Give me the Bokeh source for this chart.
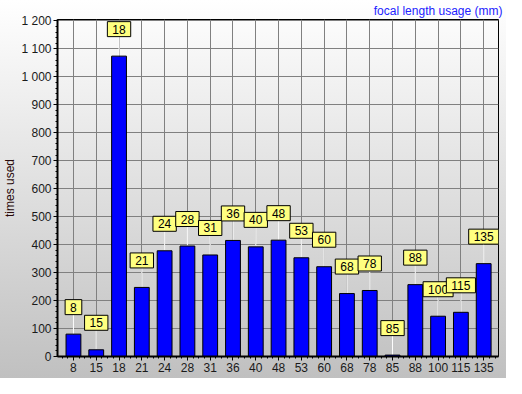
import math
from bokeh.plotting import figure
from bokeh.models import ColumnDataSource, Range1d, FixedTicker, SingleIntervalTicker
from bokeh.core.properties import value
from bokeh.embed import file_html
from bokeh.resources import INLINE

# ---- data ----
focal_lengths = ["8", "15", "18", "21", "24", "28", "31", "36", "40", "48",
                 "53", "60", "68", "78", "85", "88", "100", "115", "135"]
times_used = [80, 24, 1074, 247, 378, 395, 363, 415, 392, 416,
              353, 321, 225, 236, 5, 257, 144, 158, 332]
y_tick_values = [0, 100, 200, 300, 400, 500, 600, 700, 800, 900, 1000, 1100, 1200]
y_tick_labels = ["0", "100", "200", "300", "400", "500", "600", "700", "800", "900",
                 "1 000", "1 100", "1 200"]
title_text = "focal length usage (mm)"
y_label = "times used"

xs = list(range(len(focal_lengths)))
src = ColumnDataSource(dict(x=xs, y=times_used, label=focal_lengths))

FONT = "Liberation Sans"

p = figure(width=506, height=378, output_backend="svg", toolbar_location=None,
           x_range=Range1d(-0.7, len(xs) - 0.35), y_range=Range1d(0, 1205),
           min_border_left=40, min_border_right=8, min_border_top=14, min_border_bottom=22,
           styles={"background": "linear-gradient(to bottom, #ffffff 0%, #c0c0c0 100%)"})
p.border_fill_color = None
p.background_fill_color = None
p.outline_line_color = "black"
p.outline_line_width = 1

p.title.text = title_text
p.title.align = "right"
p.title.text_color = "#2222ff"
p.title.text_font = FONT
p.title.text_font_size = "12px"
p.title.text_font_style = "normal"
p.title.standoff = 3
p.title.offset = -4

# grid
for g in (p.xgrid, p.ygrid):
    g.grid_line_color = "#808080"
    g.grid_line_width = 1
    g.grid_line_alpha = 1

# x axis
xax = p.xaxis[0]
minor = [i / 4 for i in range(-2, 4 * len(xs))]
xax.ticker = FixedTicker(ticks=xs, minor_ticks=minor)
xax.major_label_overrides = {i: lab for i, lab in zip(xs, focal_lengths)}
# y axis
yax = p.yaxis[0]
yax.ticker = SingleIntervalTicker(interval=100, num_minor_ticks=5)
yax.major_label_overrides = {v: s for v, s in zip(y_tick_values, y_tick_labels)}
yax.axis_label = y_label

for ax in (xax, yax):
    ax.axis_line_color = "black"
    ax.axis_line_width = 2
    ax.major_tick_line_color = "black"
    ax.minor_tick_line_color = "black"
    ax.major_tick_in = 0
    ax.major_tick_out = 4
    ax.minor_tick_in = 0
    ax.minor_tick_out = 2
    ax.major_label_text_font = FONT
    ax.major_label_text_font_size = "12px"
    ax.major_label_text_color = "#1a1a1a"
    ax.major_label_standoff = 2
    ax.axis_label_text_font = FONT
    ax.axis_label_text_font_size = "12px"
    ax.axis_label_text_font_style = "normal"
    ax.axis_label_text_color = "#2a0a0a"
    ax.axis_label_standoff = 1
p.ygrid.ticker = yax.ticker
p.xgrid.ticker = FixedTicker(ticks=xs)

# connectors
p.ray(x="x", y="y", length=20, angle=math.pi / 2, length_units="screen",
      line_color="white", line_width=1, source=src)
# bars
p.vbar(x="x", top="y", width=0.65, source=src, fill_color="#0000ff",
       line_color="black", line_width=1)
# labels
p.text(x="x", y="y", text="label", source=src, y_offset=-27,
       text_align="center", text_baseline="middle",
       text_font=value(FONT), text_font_size="12px", text_color="black",
       background_fill_color="#ffff80", background_fill_alpha=1,
       border_line_color="black", border_line_width=1,
       padding=dict(left=5, right=5, top=3, bottom=3))

open("out.html", "w").write(file_html(p, INLINE))
